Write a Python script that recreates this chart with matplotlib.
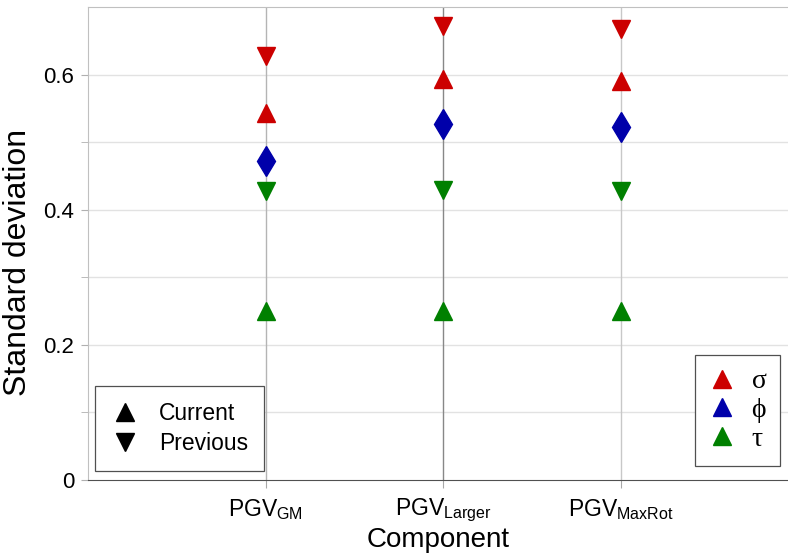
import matplotlib
matplotlib.use("Agg")
import matplotlib.pyplot as plt
from matplotlib.lines import Line2D

plt.rcParams['font.family'] = ['Liberation Sans', 'DejaVu Sans']
plt.rcParams['mathtext.fontset'] = 'custom'
plt.rcParams['mathtext.rm'] = 'Liberation Sans'
plt.rcParams['mathtext.it'] = 'Liberation Sans'

# data
components = ["GM", "Larger", "MaxRot"]
sigma_current = [0.543, 0.594, 0.590]
sigma_previous = [0.628, 0.672, 0.667]
phi_values = [0.472, 0.527, 0.523]
tau_current = [0.250, 0.250, 0.250]
tau_previous = [0.427, 0.429, 0.427]

red = "#cc0000"
blue = "#0000aa"
green = "#008000"

xpos = [1, 2, 3]
vline_colors = ["#b4b4b4", "#888888", "#c8c8c8"]

fig = plt.figure(figsize=(7.88, 5.60), dpi=100)
ax = fig.add_axes([88/788, 1 - 480/560, 1 - 88/788, (480 - 7)/560])

ax.set_xlim(0, 700/177.5)
ax.set_ylim(0, 0.7)

# grid
for y in [0.1, 0.2, 0.3, 0.4, 0.5, 0.6]:
    ax.axhline(y, color="#e2e2e2", lw=1, zorder=0)
for x, c in zip(xpos, vline_colors):
    ax.axvline(x, color=c, lw=1, zorder=0)

ms_tri = 12.5
ax.plot(xpos, sigma_previous, 'v', color=red, ms=ms_tri, ls='none', zorder=3)
ax.plot(xpos, sigma_current, '^', color=red, ms=ms_tri, ls='none', zorder=3)
ax.plot(xpos, phi_values, 'd', color=blue, ms=15.3, ls='none', zorder=3)
ax.plot(xpos, tau_previous, 'v', color=green, ms=ms_tri, ls='none', zorder=3)
ax.plot(xpos, tau_current, '^', color=green, ms=ms_tri, ls='none', zorder=3)

# ticks
ax.set_yticks([0, 0.2, 0.4, 0.6])
ax.set_yticklabels(["0", "0.2", "0.4", "0.6"])
ax.set_yticks([0.1, 0.3, 0.5], minor=True)
ax.set_xticks(xpos)
ax.set_xticklabels([r"$\mathregular{PGV_{%s}}$" % c for c in components])
ax.tick_params(axis='y', which='both', direction='out', length=5, color="#b0b0b0",
               labelsize=16, pad=5)
ax.tick_params(axis='x', direction='out', length=6, color="#a8a8a8",
               labelsize=16.5, pad=6)

for s in ['left', 'top']:
    ax.spines[s].set_color("#c0c0c0")
ax.spines['right'].set_visible(False)
ax.spines['bottom'].set_color("#505050")

ax.set_ylabel("Standard deviation", fontsize=23)
ax.yaxis.set_label_coords(-0.079, 0.461)
ax.set_xlabel("Component", fontsize=20, labelpad=2)

# legends
h1 = [Line2D([], [], marker='^', color='black', ls='none', ms=13),
      Line2D([], [], marker='v', color='black', ls='none', ms=13)]
leg1 = ax.legend(h1, ["Current", "Previous"], loc='lower left',
                 bbox_to_anchor=(0.01, 0.019), fontsize=16.5, fancybox=False,
                 edgecolor="#505050", framealpha=1, borderpad=0.7,
                 handletextpad=0.9, labelspacing=0.3, handlelength=1.2,
                 borderaxespad=0)
leg1.get_frame().set_linewidth(0.9)
ax.add_artist(leg1)

h2 = [Line2D([], [], marker='^', color=red, ls='none', ms=13),
      Line2D([], [], marker='^', color=blue, ls='none', ms=13),
      Line2D([], [], marker='^', color=green, ls='none', ms=13)]
leg2 = ax.legend(h2, ["σ", "ϕ", "τ"], loc='lower right',
                 bbox_to_anchor=(0.989, 0.03), fancybox=False,
                 edgecolor="#505050", framealpha=1, borderpad=0.5,
                 handletextpad=0.55, labelspacing=0.12, handlelength=1.0,
                 borderaxespad=0,
                 prop={'family': ['Liberation Serif', 'DejaVu Serif'], 'size': 20})
leg2.get_frame().set_linewidth(0.9)

fig.savefig("out.png", dpi=100)
